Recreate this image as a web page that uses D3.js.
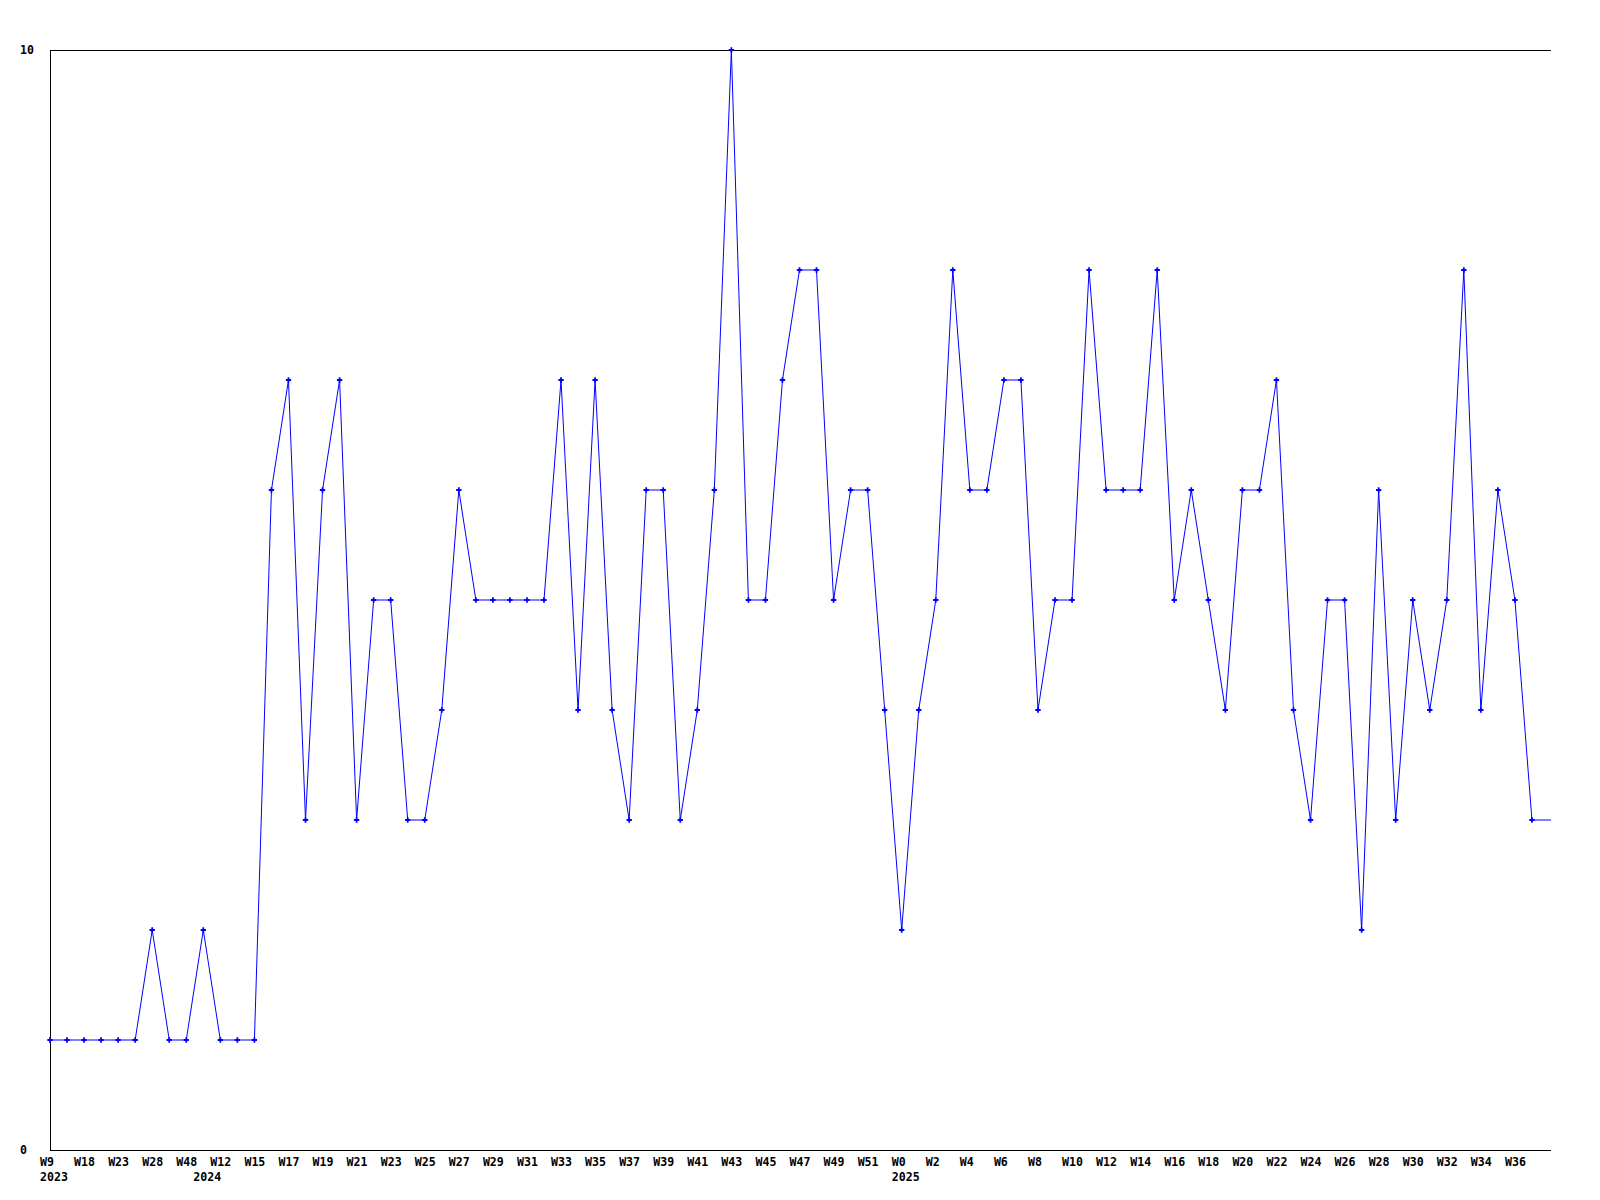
<!DOCTYPE html>
<html>
<head>
<meta charset="utf-8">
<script src="https://cdn.jsdelivr.net/npm/d3@7"></script>
<style>
  body { margin: 0; background: #fff; }
  text { font-family: "DejaVu Sans Mono", monospace; font-weight: bold; font-size: 11.6px; fill: #000; }
</style>
</head>
<body>
<div id="graf"></div>
<script>
// datos
var valores = [1, 1, 1, 1, 1, 1, 2, 1, 1, 2, 1, 1, 1, 6, 7, 3, 6, 7, 3, 5,
               5, 3, 3, 4, 6, 5, 5, 5, 5, 5, 7, 4, 7, 4, 3, 6, 6, 3, 4, 6,
               10, 5, 5, 7, 8, 8, 5, 6, 6, 4, 2, 4, 5, 8, 6, 6, 7, 7, 4, 5,
               5, 8, 6, 6, 6, 8, 5, 6, 5, 4, 6, 6, 7, 4, 3, 5, 5, 2, 6, 3,
               5, 4, 5, 8, 4, 6, 5, 3]

// una etiqueta cada dos puntos
var etiquetas = ['W9', 'W18', 'W23', 'W28', 'W48', 'W12', 'W15', 'W17', 'W19', 'W21',
                 'W23', 'W25', 'W27', 'W29', 'W31', 'W33', 'W35', 'W37', 'W39', 'W41',
                 'W43', 'W45', 'W47', 'W49', 'W51', 'W0', 'W2', 'W4', 'W6', 'W8',
                 'W10', 'W12', 'W14', 'W16', 'W18', 'W20', 'W22', 'W24', 'W26', 'W28',
                 'W30', 'W32', 'W34', 'W36']

var anios = ['2023', '2024', '2025']
var anioInicio = [0, 9, 50]

var yTicks = [0, 10]

ancho_total = 1600
alto_total = 1200
margins = { top: 50, left: 50, right: 49, bottom: 50 }
ancho = ancho_total - margins.left - margins.right
alto = alto_total - margins.top - margins.bottom

svg = d3.select('#graf').append('svg')
        .attr('width', ancho_total)
        .attr('height', alto_total)

x = d3.scaleLinear()
      .domain([0, valores.length - 1])
      .range([margins.left, margins.left + 87 * 17.034])

y = d3.scaleLinear()
      .domain([0, 10])
      .range([margins.top + alto, margins.top])

xFin = margins.left + ancho

// ejes
svg.append('line')
   .attr('x1', margins.left + 0.5).attr('x2', margins.left + 0.5)
   .attr('y1', y(10)).attr('y2', y(0))
   .attr('stroke', '#000')

yTicks.forEach(function(t) {
  svg.append('line')
     .attr('x1', margins.left).attr('x2', xFin)
     .attr('y1', Math.round(y(t)) + 0.5).attr('y2', Math.round(y(t)) + 0.5)
     .attr('stroke', '#000')
  svg.append('text')
     .attr('x', 20)
     .attr('y', y(t) + 3.5)
     .text(t)
})

// etiquetas eje x
svg.selectAll('.tick-x')
   .data(etiquetas)
   .enter().append('text')
   .attr('class', 'tick-x')
   .attr('x', (d, i) => x(i * 2) - 10)
   .attr('y', y(0) + 16)
   .text(d => d)

svg.selectAll('.anio')
   .data(anios)
   .enter().append('text')
   .attr('class', 'anio')
   .attr('x', (d, i) => x(anioInicio[i]) - 10)
   .attr('y', y(0) + 31)
   .text(d => d)

// linea
linea = d3.line()
          .x((d, i) => x(i))
          .y(d => y(d))

svg.append('path')
   .datum(valores)
   .attr('d', linea)
   .attr('fill', 'none')
   .attr('stroke', '#0000ff')
   .attr('stroke-width', 1)

// tramo final hasta el borde
svg.append('line')
   .attr('x1', x(valores.length - 1)).attr('x2', xFin)
   .attr('y1', y(valores[valores.length - 1])).attr('y2', y(valores[valores.length - 1]))
   .attr('stroke', '#0000ff')

// marcadores
svg.selectAll('.punto')
   .data(valores)
   .enter().append('path')
   .attr('class', 'punto')
   .attr('d', d3.symbol().type(d3.symbolCross).size(16))
   .attr('transform', (d, i) => `translate(${ x(i) },${ y(d) })`)
   .attr('fill', '#0000ff')
</script>
</body>
</html>
